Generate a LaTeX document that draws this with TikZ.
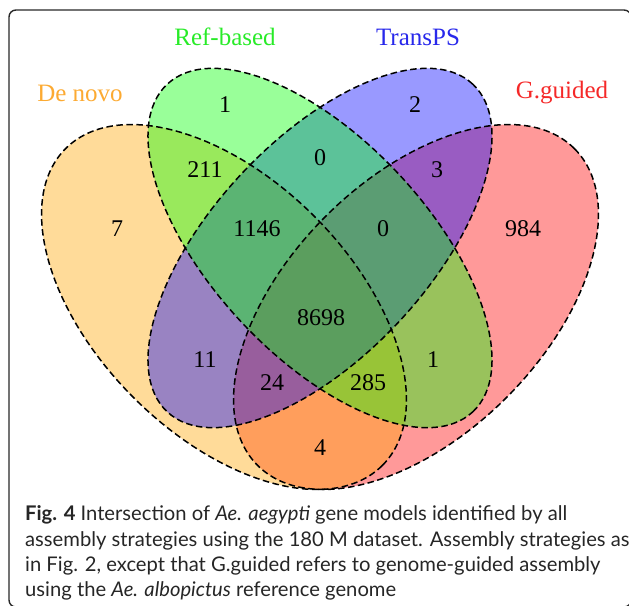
\documentclass[tikz,border=0pt]{standalone}
\usepackage{fontspec}
\setmainfont{Liberation Serif}
\newfontfamily\capfont{Lato}
\definecolor{cOrange}{RGB}{255,165,0}
\definecolor{cGreen}{RGB}{0,255,0}
\definecolor{cBlue}{RGB}{0,0,255}
\definecolor{cRed}{RGB}{255,0,0}
\definecolor{tOrange}{RGB}{252,170,50}
\definecolor{tGreen}{RGB}{40,235,40}
\definecolor{tBlue}{RGB}{40,40,235}
\definecolor{tRed}{RGB}{245,40,40}
\definecolor{frameGray}{RGB}{40,40,40}
\tikzset{
  setfill/.style={fill=#1, fill opacity=0.4, draw=none},
  setline/.style={draw=black, line width=1.5pt, dash pattern=on 6.5pt off 3.5pt},
  num/.style={font=\fontsize{24}{24}\selectfont, text=black, inner sep=0pt},
  catlab/.style={font=\fontsize{25}{25}\selectfont, inner sep=0pt},
  capline/.style={font=\capfont\fontsize{20.2}{20.2}\selectfont, text=black!85, anchor=base west, inner sep=0pt}
}
\begin{document}
\begin{tikzpicture}[x=1pt,y=-1pt]
\useasboundingbox (0,0) rectangle (629,605);
\begin{scope}
\clip (0,0) rectangle (629,605);
\draw[frameGray, line width=1.4pt, rounded corners=7pt] (9,10) rectangle (631,607);
\end{scope}
% centres
\coordinate (cD) at (224,307);
\coordinate (cG) at (416,307);
\coordinate (cR) at (320,248);
\coordinate (cT) at (320,248);
% fills in compositing order: G.guided, De novo, TransPS, Ref-based
\path[setfill=cRed, rotate around={45:(cG)}] (cG) ellipse [x radius=224pt, y radius=128pt];
\path[setfill=cOrange, rotate around={-45:(cD)}] (cD) ellipse [x radius=224pt, y radius=128pt];
\path[setfill=cBlue, rotate around={47:(cT)}] (cT) ellipse [x radius=224pt, y radius=108pt];
\path[setfill=cGreen, rotate around={-47:(cR)}] (cR) ellipse [x radius=224pt, y radius=108pt];
% outlines
\draw[setline, rotate around={45:(cG)}] (cG) ellipse [x radius=224pt, y radius=128pt];
\draw[setline, rotate around={-45:(cD)}] (cD) ellipse [x radius=224pt, y radius=128pt];
\draw[setline, rotate around={47:(cT)}] (cT) ellipse [x radius=224pt, y radius=108pt];
\draw[setline, rotate around={-47:(cR)}] (cR) ellipse [x radius=224pt, y radius=108pt];
% category labels
\node[catlab, text=tGreen] (lR) at (225,37) {Ref-based};
\node[catlab, text=tBlue] (lT) at (418,37) {TransPS};
\node[catlab, text=tOrange] (lD) at (80,93) {De novo};
\node[catlab, text=tRed] (lG) at (562,93) {G.guided};
% numbers
\node[num] (n1) at (225,105) {1};
\node[num] (n2) at (415,105) {2};
\node[num] (n3) at (205,170) {211};
\node[num] (n4) at (320,158) {0};
\node[num] (n5) at (437,170) {3};
\node[num] (n6) at (117,229) {7};
\node[num] (n7) at (257,229) {1146};
\node[num] (n8) at (383,229) {0};
\node[num] (n9) at (523,229) {984};
\node[num] (n10) at (321,318) {8698};
\node[num] (n11) at (205,360) {11};
\node[num] (n12) at (433,360) {1};
\node[num] (n13) at (272,383) {24};
\node[num] (n14) at (368,383) {285};
\node[num] (n15) at (320,448) {4};
% caption
\node[capline] (c1) at (25,520) {\textbf{Fig. 4} Intersection of \textit{Ae. aegypti} gene models identified by all};
\node[capline] (c2) at (25,546) {assembly strategies using the 180 M dataset. Assembly strategies as};
\node[capline] (c3) at (25,571) {in Fig. 2, except that G.guided refers to genome-guided assembly};
\node[capline] (c4) at (25,596) {using the \textit{Ae. albopictus} reference genome};
\end{tikzpicture}
\end{document}
